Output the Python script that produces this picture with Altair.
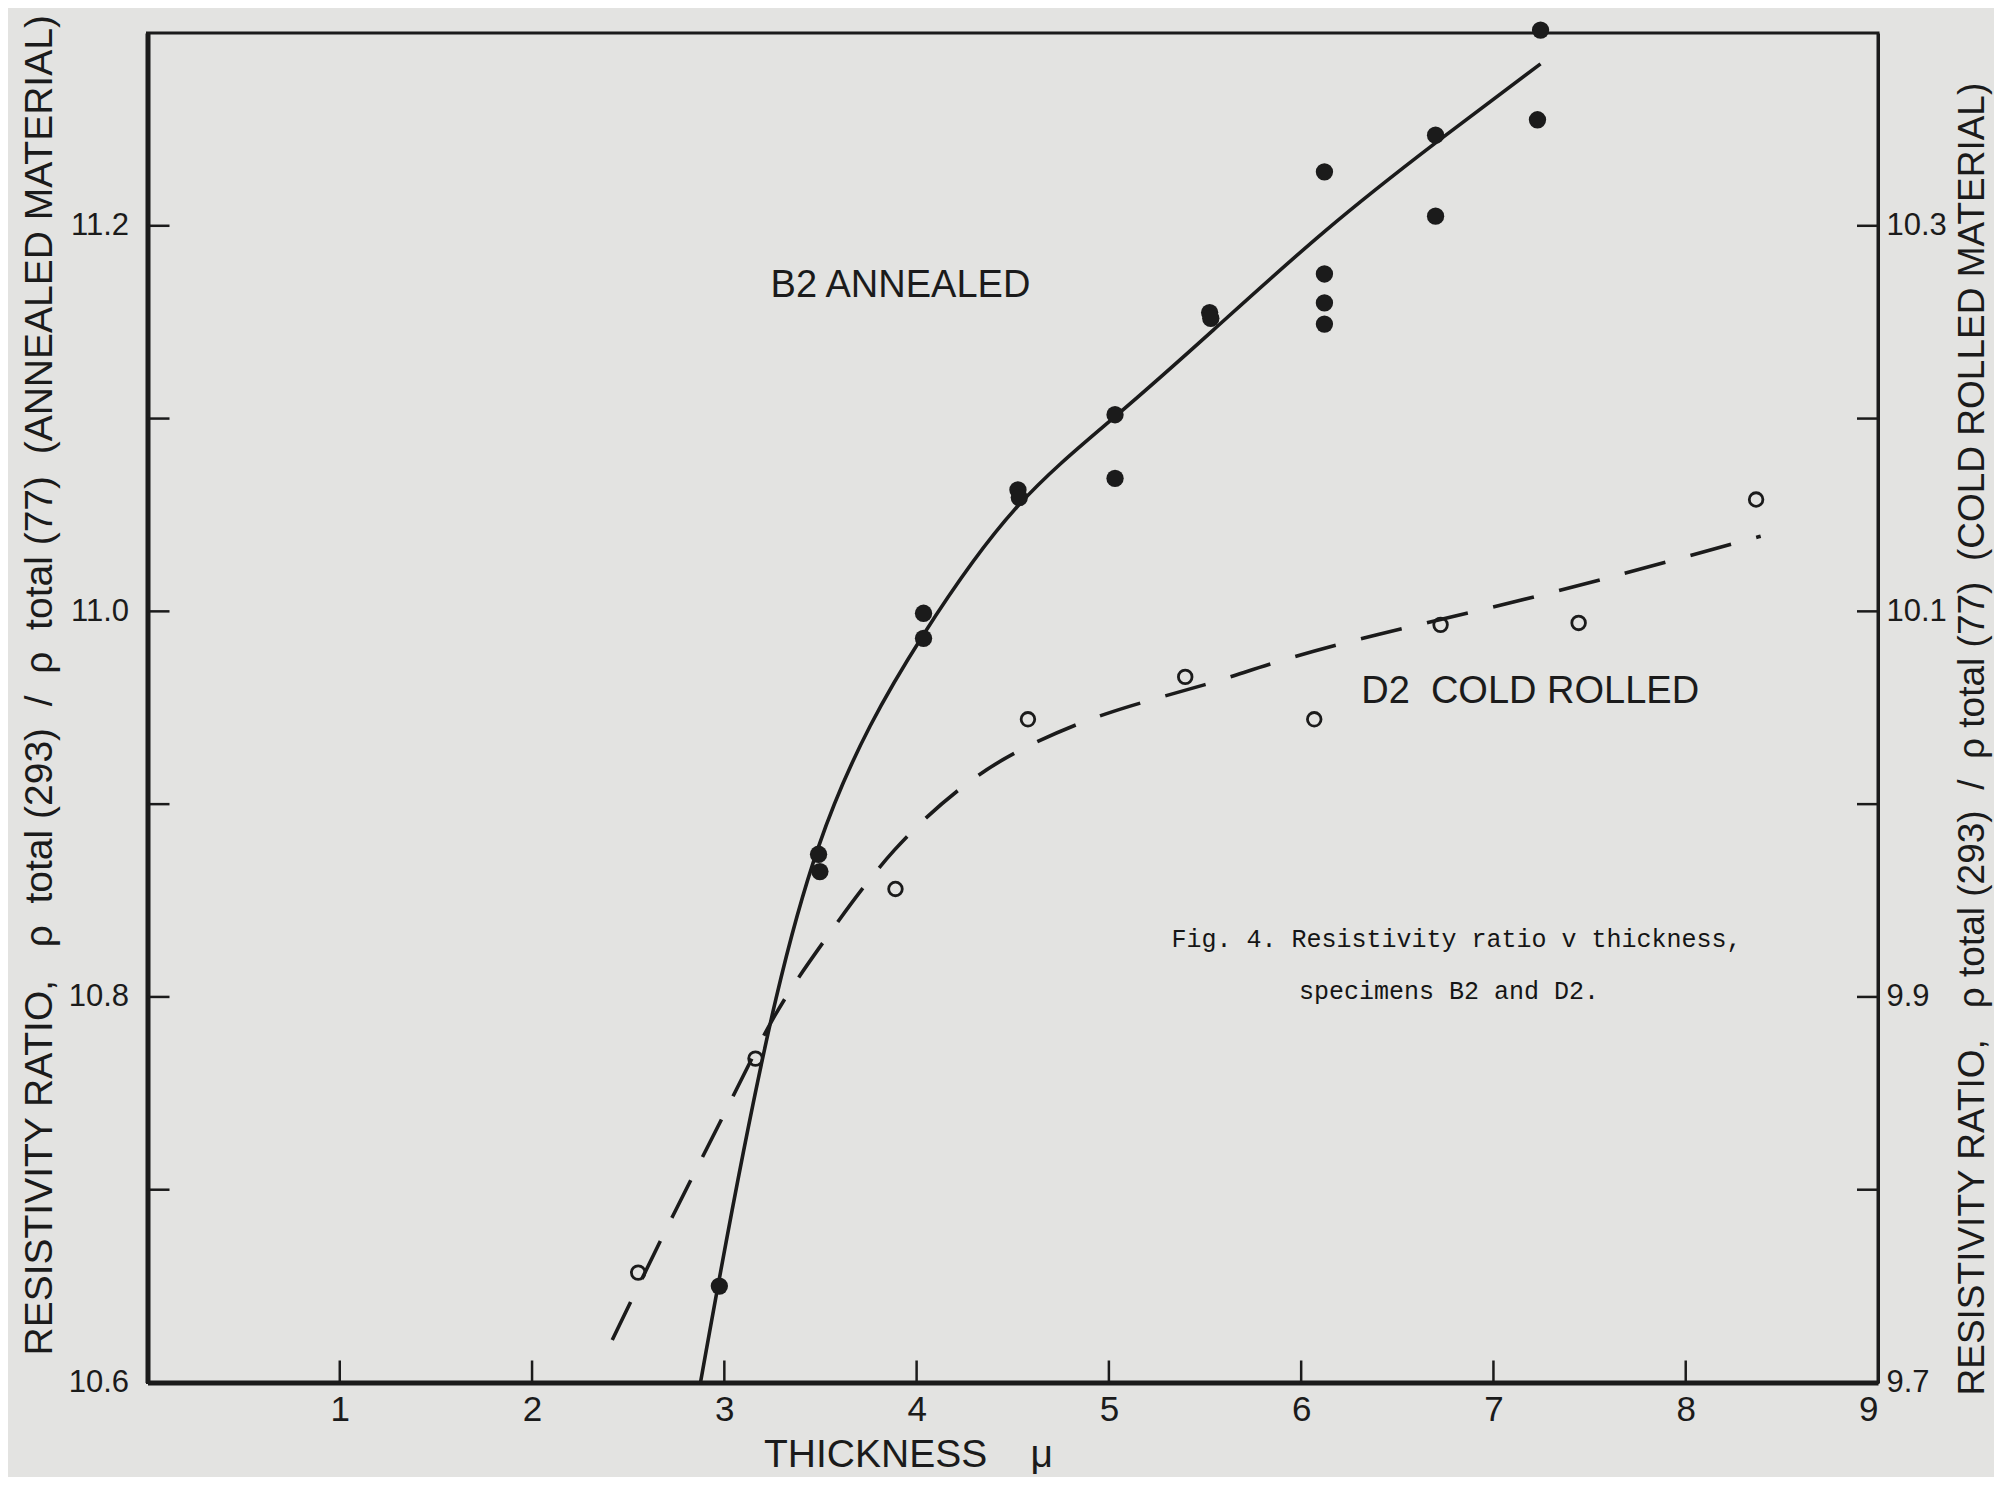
import altair as alt
import pandas as pd

# ---------------- data ----------------
# B2 annealed specimens (left axis)
b2_x = [2.974, 3.490, 3.497, 4.036, 4.036, 4.527, 4.534, 5.032, 5.032, 5.524,
        5.530, 6.121, 6.121, 6.121, 6.121, 6.699, 6.699, 7.245, 7.229]
b2_y = [10.650, 10.874, 10.865, 10.999, 10.986, 11.063, 11.059, 11.102, 11.069, 11.155,
        11.152, 11.228, 11.175, 11.160, 11.149, 11.247, 11.205, 11.3015, 11.255]

# fitted solid curve for B2
b2_curve_x = [2.876, 3.100, 3.490, 4.036, 4.530, 5.032, 5.544, 6.121, 6.699, 7.245]
b2_curve_y = [10.600, 10.720, 10.878, 10.988, 11.055, 11.101, 11.146, 11.197, 11.243, 11.284]

# D2 cold rolled specimens (right axis)
d2_x = [2.552, 3.162, 3.890, 4.579, 5.397, 6.068, 6.725, 7.443, 8.366]
d2_y = [9.757, 9.868, 9.956, 10.044, 10.066, 10.044, 10.093, 10.094, 10.158]

# fitted dashed curve for D2
d2_curve_x = [2.417, 2.730, 3.008, 3.261, 3.526, 3.883, 4.280, 4.620, 5.020, 5.500,
              5.850, 6.400, 7.270, 8.390]
d2_curve_y = [9.722, 9.786, 9.841, 9.890, 9.930, 9.976, 10.012, 10.032, 10.048, 10.062,
              10.073, 10.088, 10.109, 10.139]

# axes
x_labels = [1, 2, 3, 4, 5, 6, 7, 8, 9]
x_inner_ticks = [1, 2, 3, 4, 5, 6, 7, 8]
left_labels = [10.6, 10.8, 11.0, 11.2]
right_labels = [9.7, 9.9, 10.1, 10.3]
y_inner_ticks = [10.7, 10.8, 10.9, 11.0, 11.1, 11.2]

NB = "\u00a0"
left_title = ("RESISTIVITY RATIO," + NB * 3 + "ρ" + NB * 2 + "total (293)" + NB * 2 + "/" + NB * 2
              + "ρ" + NB * 2 + "total (77)" + NB * 2 + "(ANNEALED MATERIAL)")
right_title = ("RESISTIVITY RATIO," + NB * 3 + "ρ" + NB + "total" + NB + "(293)" + NB * 2 + "/" + NB * 2
               + "ρ" + NB + "total" + NB + "(77)" + NB * 2 + "(COLD ROLLED MATERIAL)")
x_title = "THICKNESS" + NB * 4 + "μ"

label_texts = ["B2 ANNEALED", "D2" + NB * 2 + "COLD ROLLED"]
label_x = [3.916, 7.191]
label_y = [11.169, 10.958]

caption_texts = ["Fig. 4. Resistivity ratio v thickness,", "specimens B2 and D2."]
caption_x = [5.325, 5.989]
caption_y = [10.830, 10.803]

# ---------------- styling ----------------
INK = "#1b1b1b"
PAPER = "#e3e3e1"
SANS = "Liberation Sans"
W, H = 1730.5, 1349.5

xs = alt.Scale(domain=[0, 9], nice=False, zero=False)
ysL = alt.Scale(domain=[10.6, 11.3], nice=False, zero=False)
ysR = alt.Scale(domain=[9.7, 10.4], nice=False, zero=False)

x_axis = alt.Axis(values=x_labels, format="d", grid=False, ticks=False, tickSize=0,
                  domainColor=INK, domainWidth=5, labelFont=SANS, labelFontSize=35,
                  labelColor=INK, labelPadding=10, title=x_title, titleFont=SANS,
                  titleFontSize=39, titleFontWeight="normal", titleColor=INK,
                  titleX=760.5, titleY=84, titleAlign="center", titleBaseline="alphabetic")
yl_axis = alt.Axis(values=left_labels, format=".1f", grid=False, ticks=False, tickSize=0,
                   domainColor=INK, domainWidth=5, labelFont=SANS, labelFontSize=31,
                   labelColor=INK, labelPadding=19, title=left_title, titleFont=SANS,
                   titleFontSize=39, titleFontWeight="normal", titleColor=INK,
                   titleAngle=270, titleAlign="left", titleBaseline="alphabetic",
                   titleX=-96, titleY=1322)
yr_axis = alt.Axis(values=right_labels, format=".1f", orient="right", grid=False, ticks=False,
                   tickSize=0, domainColor=INK, domainWidth=3, labelFont=SANS,
                   labelFontSize=31, labelColor=INK, labelPadding=8, title=right_title,
                   titleFont=SANS, titleFontSize=37, titleFontWeight="normal", titleColor=INK,
                   titleAngle=270, titleAlign="left", titleBaseline="alphabetic",
                   titleX=105, titleY=1362)

X = lambda: alt.X("x:Q", scale=xs, axis=x_axis)
YL = lambda: alt.Y("y:Q", scale=ysL, axis=yl_axis)
YR = lambda: alt.Y("y:Q", scale=ysR, axis=yr_axis)

b2_df = pd.DataFrame({"x": b2_x, "y": b2_y})
b2c_df = pd.DataFrame({"x": b2_curve_x, "y": b2_curve_y})
d2_df = pd.DataFrame({"x": d2_x, "y": d2_y})
d2c_df = pd.DataFrame({"x": d2_curve_x, "y": d2_curve_y})
yt_df = pd.DataFrame({"y": y_inner_ticks})
xt_df = pd.DataFrame({"x": x_inner_ticks})
lab_df = pd.DataFrame({"x": label_x, "y": label_y, "t": label_texts})
cap_df = pd.DataFrame({"x": caption_x, "y": caption_y, "t": caption_texts})

b2_line = alt.Chart(b2c_df).mark_line(color=INK, strokeWidth=3.6, interpolate="natural",
                                      clip=False).encode(x=X(), y=YL())
b2_pts = alt.Chart(b2_df).mark_point(filled=True, shape="circle", size=300, color=INK,
                                     opacity=1).encode(x=X(), y=YL())
yt_left = alt.Chart(yt_df).mark_rule(color=INK, strokeWidth=2.5).encode(
    y=YL(), x=alt.value(0), x2=alt.value(22))
yt_right = alt.Chart(yt_df).mark_rule(color=INK, strokeWidth=2.5).encode(
    y=YL(), x=alt.value(W - 21), x2=alt.value(W))
xt = alt.Chart(xt_df).mark_rule(color=INK, strokeWidth=2.5).encode(
    x=X(), y=alt.value(H), y2=alt.value(H - 22))
labels = alt.Chart(lab_df).mark_text(font=SANS, fontSize=38, color=INK, align="center",
                                     baseline="middle").encode(x=X(), y=YL(), text="t:N")
captions = alt.Chart(cap_df).mark_text(font="Liberation Mono", fontSize=25, color="#151515",
                                       align="left", baseline="middle").encode(
    x=X(), y=YL(), text="t:N")

left = alt.layer(b2_line, b2_pts, yt_left, yt_right, xt, labels, captions)

d2_line = alt.Chart(d2c_df).mark_line(color=INK, strokeWidth=3.6, strokeDash=[42, 26],
                                      interpolate="natural").encode(x=X(), y=YR())
d2_pts = alt.Chart(d2_df).mark_point(filled=False, shape="circle", size=185, color=INK,
                                     strokeWidth=2.8, opacity=1).encode(x=X(), y=YR())
right = alt.layer(d2_line, d2_pts)

chart = alt.layer(left, right).resolve_scale(y="independent").properties(
    width=W, height=H,
    padding={"left": 139.5, "top": 25, "right": 116, "bottom": 94},
    autosize=alt.AutoSizeParams(type="none"),
    background=PAPER,
).configure_view(stroke=INK, strokeWidth=3)

chart.save("out.html", embed_options={"renderer": "svg", "actions": False})
